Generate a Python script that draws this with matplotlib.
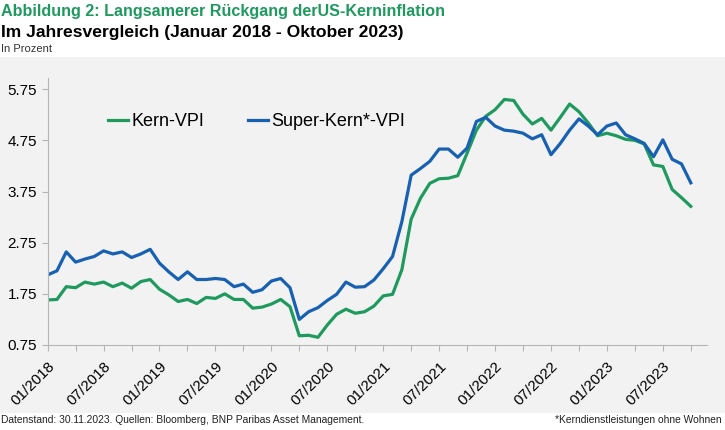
import numpy as np
import matplotlib
matplotlib.use("Agg")
import matplotlib.pyplot as plt
from matplotlib.patches import Rectangle

plt.rcParams['font.family'] = ['Liberation Sans', 'DejaVu Sans']

# monthly values, Jan 2018 - Oct 2023 (in percent, y/y)
kern_vpi = [1.63, 1.64, 1.89, 1.87, 1.98, 1.94, 1.98, 1.89, 1.96, 1.86, 1.99, 2.03,
            1.84, 1.73, 1.60, 1.64, 1.56, 1.68, 1.66, 1.75, 1.64, 1.64, 1.47, 1.49,
            1.55, 1.64, 1.50, 0.93, 0.94, 0.90, 1.14, 1.35, 1.45, 1.37, 1.40, 1.51,
            1.71, 1.74, 2.22, 3.21, 3.62, 3.91, 4.00, 4.01, 4.06, 4.50, 4.95, 5.22,
            5.35, 5.55, 5.53, 5.26, 5.07, 5.18, 4.95, 5.20, 5.46, 5.31, 5.09, 4.84,
            4.89, 4.84, 4.77, 4.75, 4.68, 4.27, 4.24, 3.79, 3.63, 3.46]
super_kern_vpi = [2.12, 2.20, 2.57, 2.37, 2.43, 2.48, 2.59, 2.53, 2.57, 2.46, 2.53, 2.62,
                  2.35, 2.18, 2.03, 2.18, 2.03, 2.03, 2.05, 2.03, 1.89, 1.94, 1.78, 1.83,
                  2.00, 2.05, 1.87, 1.25, 1.40, 1.48, 1.62, 1.74, 1.98, 1.88, 1.89, 2.02,
                  2.24, 2.48, 3.16, 4.07, 4.20, 4.34, 4.58, 4.58, 4.42, 4.60, 5.12, 5.20,
                  5.03, 4.95, 4.93, 4.89, 4.78, 4.86, 4.47, 4.69, 4.95, 5.17, 5.03, 4.86,
                  5.03, 5.09, 4.86, 4.78, 4.69, 4.43, 4.76, 4.38, 4.29, 3.92]
month_labels = ["01/2018", "07/2018", "01/2019", "07/2019", "01/2020", "07/2020",
                "01/2021", "07/2021", "01/2022", "07/2022", "01/2023", "07/2023"]
y_ticks = [0.75, 1.75, 2.75, 3.75, 4.75, 5.75]

green = "#1f9a5e"
blue = "#1760b2"
months = np.arange(len(kern_vpi))

fig = plt.figure(figsize=(7.25, 4.3), dpi=100)
fig.patches.append(Rectangle((0, 0.0395), 1, 0.828, transform=fig.transFigure,
                             facecolor="#f2f2f2", edgecolor="none", zorder=-1))

ax = fig.add_axes([0.0657, 0.1977, 0.909, 0.621])
ax.set_facecolor("none")
ax.plot(months, kern_vpi, color=green, lw=2.3, label="Kern-VPI")
ax.plot(months, super_kern_vpi, color=blue, lw=2.3, label="Super-Kern*-VPI")

ax.set_xlim(0, 70.7)
ax.set_ylim(0.75, 5.97)
ax.set_yticks(y_ticks)
ax.set_yticklabels(["%.2f" % v for v in y_ticks], fontsize=11)
ax.set_xticks(np.arange(0, 70, 6))
ax.set_xticklabels(month_labels, rotation=45, ha="right", va="top",
                   rotation_mode="anchor", fontsize=11)
ax.set_xticks(np.arange(3, 70, 6), minor=True)
for s in ["top", "right"]:
    ax.spines[s].set_visible(False)
for s in ["left", "bottom"]:
    ax.spines[s].set_color("#b5b5b5")
ax.tick_params(which="both", color="#b5b5b5", length=4, width=0.8)
ax.tick_params(axis="x", pad=6)

ax.legend(loc="upper left", bbox_to_anchor=(0.067, 0.93), ncol=2, frameon=False,
          fontsize=13, handlelength=1.1, handletextpad=0.2, columnspacing=2.4)

fig.text(0.002, 0.99, "Abbildung 2: Langsamerer Rückgang derUS-Kerninflation",
         color=green, fontsize=11.6, fontweight="bold", va="top")
fig.text(0.002, 0.943, "Im Jahresvergleich (Januar 2018 - Oktober 2023)",
         color="black", fontsize=12.6, fontweight="bold", va="top")
fig.text(0.002, 0.898, "In Prozent", color="#333333", fontsize=8, va="top")
fig.text(0.002, 0.012, "Datenstand: 30.11.2023. Quellen: Bloomberg, BNP Paribas Asset Management.",
         color="#222222", fontsize=7.4, va="bottom")
fig.text(0.996, 0.012, "*Kerndienstleistungen ohne Wohnen",
         color="#222222", fontsize=7.4, va="bottom", ha="right")

fig.savefig("out.png", dpi=100)
